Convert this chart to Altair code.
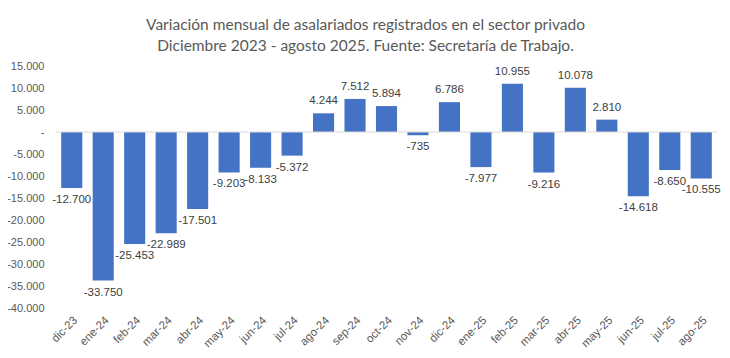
import altair as alt
import pandas as pd

months = ["dic-23", "ene-24", "feb-24", "mar-24", "abr-24", "may-24", "jun-24", "jul-24",
          "ago-24", "sep-24", "oct-24", "nov-24", "dic-24", "ene-25", "feb-25", "mar-25",
          "abr-25", "may-25", "jun-25", "jul-25", "ago-25"]
values = [-12700, -33750, -25453, -22989, -17501, -9203, -8133, -5372,
          4244, 7512, 5894, -735, 6786, -7977, 10955, -9216,
          10078, 2810, -14618, -8650, -10555]
y_ticks = [-40000, -35000, -30000, -25000, -20000, -15000, -10000, -5000, 0, 5000, 10000, 15000]


def fmt(v):
    s = f"{abs(v):,}".replace(",", ".")
    return ("-" if v < 0 else "") + s


df = pd.DataFrame({"mes": months, "valor": values})
df["label"] = [fmt(v) for v in values]

x = alt.X("mes:N", sort=months, title=None,
          scale=alt.Scale(paddingInner=0.33, paddingOuter=0.165),
          axis=alt.Axis(labelAngle=-45, labelFont="Liberation Sans", labelFontSize=11.5,
                        labelColor="#595959", domain=False, ticks=False, labelPadding=6))
yscale = alt.Scale(domain=[-40000, 15000], nice=False, zero=False)
yaxis = alt.Axis(values=y_ticks, grid=False, domain=False,
                 ticks=False, labelFont="Liberation Sans", labelFontSize=11,
                 labelColor="#595959", labelPadding=12, labelOverlap=False,
                 labelBound=False,
                 labelExpr="datum.value == 0 ? '-' : (datum.value < 0 ? '-' : '') + replace(format(abs(datum.value), ','), ',', '.')")
y = alt.Y("valor:Q", title=None, scale=yscale, axis=yaxis)

base = alt.Chart(df)

zero = alt.Chart(pd.DataFrame({"valor": [0]})).mark_rule(color="#d9d9d9", strokeWidth=1).encode(y=y)

bars = base.mark_bar(color="#4472C4").encode(x=x, y=y)

txt_pos = base.transform_filter("datum.valor >= 0").mark_text(
    dy=-12, baseline="middle", font="Liberation Sans", fontSize=11.5, color="#404040"
).encode(x=x, y=y, text="label:N")
txt_neg = base.transform_filter("datum.valor < 0").mark_text(
    dy=12, baseline="middle", font="Liberation Sans", fontSize=11.5, color="#404040"
).encode(x=x, y=y, text="label:N")

chart = alt.layer(bars, zero, txt_pos, txt_neg).properties(
    width=661, height=242,
    autosize=alt.AutoSizeParams(type="none"),
    padding={"left": 48, "top": 58, "right": 5, "bottom": 42},
    title=alt.TitleParams(
        ["Variación mensual de asalariados registrados en el sector privado",
         "Diciembre 2023 - agosto 2025. Fuente: Secretaría de Trabajo."],
        font="Lato", fontSize=15.5, fontWeight="normal", color="#595959",
        anchor="middle", dx=-21, dy=4, offset=10, lineHeight=21),
).configure_view(stroke=None)

chart.save("out.html", embed_options={"renderer": "svg", "actions": False})
